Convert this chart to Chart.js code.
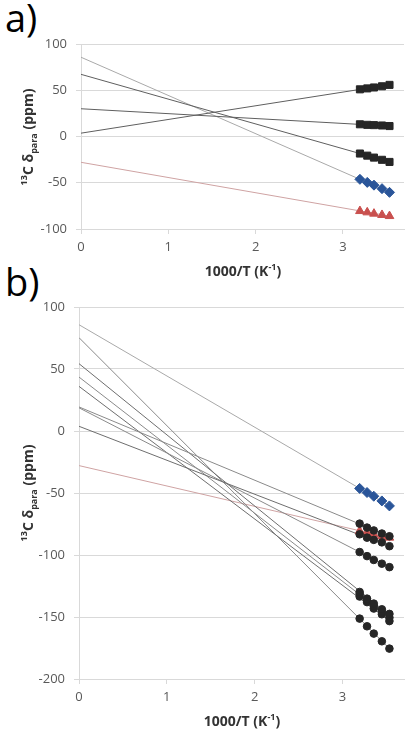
<!DOCTYPE html>
<html>
<head>
<meta charset="utf-8">
<script src="https://cdn.jsdelivr.net/npm/chart.js@4.4.1/dist/chart.umd.min.js"></script>
<style>
  html, body { margin: 0; padding: 0; background: #fff; }
  body { width: 412px; height: 737px; position: relative; overflow: hidden; font-family: "Open Sans", sans-serif; }
  .box { position: absolute; left: 0; width: 412px; }
  .panel { position: absolute; font-size: 38px; line-height: 1; color: #000; }
  .ytitle { position: absolute; transform: translate(-50%, -50%) rotate(-90deg); white-space: nowrap;
            font-weight: bold; font-size: 14px; color: #333; line-height: 1; }
  .xtitle { position: absolute; transform: translate(-50%, -50%); white-space: nowrap;
            font-weight: bold; font-size: 14px; color: #333; line-height: 1; }
  sup, sub { font-size: 9px; line-height: 0; }
</style>
</head>
<body>
<div class="panel" style="left:5px; top:-2px;">a)</div>
<div class="panel" style="left:5px; top:262px;">b)</div>

<div class="box" style="top:0; height:290px;"><canvas id="chartA"></canvas></div>
<div class="box" style="top:290px; height:447px;"><canvas id="chartB"></canvas></div>

<div class="ytitle" style="left:28px; top:137px;"><sup>13</sup>C δ<sub>para</sub> (ppm)</div>
<div class="xtitle" style="left:243px; top:271px;">1000/T (K<sup>-1</sup>)</div>
<div class="ytitle" style="left:28px; top:493px;"><sup>13</sup>C δ<sub>para</sub> (ppm)</div>
<div class="xtitle" style="left:242px; top:721px;">1000/T (K<sup>-1</sup>)</div>

<script>
// ---------- data ----------
const xInvT = [3.195, 3.279, 3.356, 3.448, 3.534];   // 1000/T (K^-1)
const xTickValues = [0, 1, 2, 3];
const aYTickStep = 50;
const bYTickStep = 50;

// panel a)
const aSquares1 = [51.0, 52.0, 53.0, 54.3, 55.8];
const aSquares2 = [13.2, 12.6, 12.3, 11.9, 11.3];
const aSquares3 = [-18.4, -20.7, -22.8, -25.2, -27.5];
const blueDiamonds = [-46.3, -49.6, -52.6, -56.4, -60.4];
const redTriangles = [-80.6, -82.0, -83.4, -84.8, -86.0];
// trend lines (value at 1000/T = 0 and at the last point)
const aFitAtZero = [3.6, 30.0, 67.2];
const aFitAtEnd  = [55.9, 11.3, -27.5];
const blueFitAtZero = 85.7, blueFitAtEnd = -60.3;
const redFitAtZero = -27.9, redFitAtEnd = -86.0;

// panel b)
const bCircles1 = [-74.7, -77.9, -80.2, -82.7, -84.9];
const bCircles2 = [-83.3, -86.0, -87.8, -89.8, -92.9];
const bCircles3 = [-97.6, -100.9, -104.0, -107.0, -109.8];
const bCircles4 = [-129.8, -135.2, -139.2, -143.8, -147.5];
const bCircles5 = [-131.5, -136.5, -141.0, -145.8, -150.5];
const bCircles6 = [-133.5, -138.0, -143.2, -147.8, -153.3];
const bCircles7 = [-151.3, -157.5, -163.4, -169.6, -175.5];
const bFitAtZero = [19.4, 3.8, 18.7, 54.3, 43.5, 36.0, 75.3];
const bFitAtEnd  = [-85.0, -93.0, -110.0, -148.5, -150.5, -153.0, -175.5];

// ---------- helpers ----------
Chart.defaults.font.family = '"Open Sans", sans-serif';
Chart.defaults.color = '#595959';

function pts(vals) { return vals.map((v, i) => ({ x: xInvT[i], y: v })); }
function fitLine(y0, yEnd) { return [{ x: 0, y: y0 }, { x: xInvT[xInvT.length - 1], y: yEnd }]; }

function markerSet(vals, style, color, radius) {
  return { data: pts(vals), showLine: false, pointStyle: style, pointRadius: radius,
           pointBackgroundColor: color, pointBorderColor: color, pointBorderWidth: 1, order: 0 };
}
function lineSet(y0, yEnd, color) {
  return { data: fitLine(y0, yEnd), showLine: true, pointRadius: 0, borderColor: color,
           borderWidth: 1, fill: false, order: 1 };
}

function makeOptions(yMin, yMax, step, pad, yWidth, xHeight) {
  return {
    responsive: true, maintainAspectRatio: false, animation: false,
    layout: { padding: pad },
    plugins: { legend: { display: false }, tooltip: { enabled: false } },
    scales: {
      x: {
        type: 'linear', min: 0, max: 3.7,
        afterBuildTicks: s => { s.ticks = xTickValues.map(v => ({ value: v })); },
        afterFit: s => { s.height = xHeight; },
        grid: { drawOnChartArea: false, drawTicks: true, tickLength: 5, color: '#d9d9d9' },
        border: { color: '#d9d9d9' },
        ticks: { font: { size: 13 }, color: '#595959', padding: 5, maxRotation: 0 }
      },
      y: {
        type: 'linear', min: yMin, max: yMax,
        afterFit: s => { s.width = yWidth; },
        grid: { color: '#d9d9d9', tickLength: 5 },
        border: { color: '#d9d9d9' },
        ticks: { stepSize: step, font: { size: 13 }, color: '#595959', padding: 9 }
      }
    }
  };
}

const SQ = '#262626', BLUE = '#2a5599', RED = '#c9504e';

// ---------- chart a ----------
const aMarkers = [aSquares1, aSquares2, aSquares3];
const aDatasets = [];
aMarkers.forEach((vals) => aDatasets.push(markerSet(vals, 'rect', SQ, 5)));
aDatasets.push(markerSet(blueDiamonds, 'rectRot', BLUE, 5));
aDatasets.push(markerSet(redTriangles, 'triangle', RED, 5));
aFitAtZero.forEach((y0, i) => aDatasets.push(lineSet(y0, aFitAtEnd[i], '#5f5f5f')));
aDatasets.push(lineSet(blueFitAtZero, blueFitAtEnd, '#a9a9a9'));
aDatasets.push(lineSet(redFitAtZero, redFitAtEnd, '#cfa3a3'));

new Chart(document.getElementById('chartA'), {
  type: 'scatter',
  data: { datasets: aDatasets },
  options: makeOptions(-100, 100, aYTickStep, { top: 44, right: 8, left: 0, bottom: 0 }, 81, 61)
});

// ---------- chart b ----------
const bMarkers = [bCircles1, bCircles2, bCircles3, bCircles4, bCircles5, bCircles6, bCircles7];
const bDatasets = [];
bDatasets.push(markerSet(blueDiamonds, 'rectRot', BLUE, 5));
bMarkers.forEach((vals) => bDatasets.push(markerSet(vals, 'circle', SQ, 3.8)));
bDatasets.push(markerSet(redTriangles, 'triangle', RED, 5));
bDatasets.push(lineSet(blueFitAtZero, blueFitAtEnd, '#a9a9a9'));
bFitAtZero.forEach((y0, i) => bDatasets.push(lineSet(y0, bFitAtEnd[i], i % 2 ? '#6e6e6e' : '#8a8a8a')));
bDatasets.push(lineSet(redFitAtZero, redFitAtEnd, '#cfa3a3'));

new Chart(document.getElementById('chartB'), {
  type: 'scatter',
  data: { datasets: bDatasets },
  options: makeOptions(-200, 100, bYTickStep, { top: 17, right: 8, left: 0, bottom: 0 }, 79, 58)
});
</script>
</body>
</html>
